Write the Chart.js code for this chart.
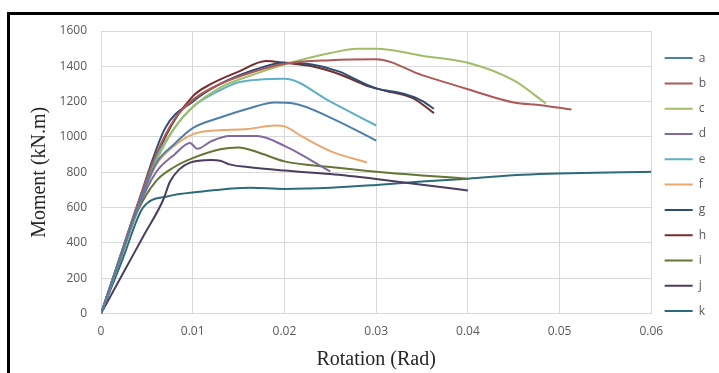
<!DOCTYPE html>
<html>
<head>
<meta charset="utf-8">
<script src="https://cdn.jsdelivr.net/npm/chart.js@4.4.0/dist/chart.umd.min.js"></script>
<style>
    html, body { margin: 0; padding: 0; background: #fff; }
    #wrap { position: relative; width: 719px; height: 373px; overflow: hidden; }
    #chart { position: absolute; left: 0; top: 0; }
    .frame-top { position: absolute; left: 7px; top: 12px; width: 712px; height: 3px; background: #000; }
    .frame-left { position: absolute; left: 7px; top: 12px; width: 3px; height: 361px; background: #000; }
</style>
</head>
<body>
<div id="wrap">
    <canvas id="chart" width="719" height="373"></canvas>
    <div class="frame-top"></div>
    <div class="frame-left"></div>
</div>
<script>
// series data: [rotation (rad), moment (kN.m)]
const seriesA = [[0,0],[0.002,300],[0.004,600],[0.006,850],[0.008,960],[0.01,1050],[0.013,1110],[0.016,1160],[0.019,1195],[0.021,1190],[0.025,1110],[0.03,980]];
const seriesB = [[0,0],[0.002,310],[0.004,620],[0.006,900],[0.008,1100],[0.01,1210],[0.013,1300],[0.017,1375],[0.02,1415],[0.025,1435],[0.03,1440],[0.035,1350],[0.04,1270],[0.045,1195],[0.048,1180],[0.0513,1155]];
const seriesC = [[0,0],[0.002,300],[0.004,600],[0.006,860],[0.008,1050],[0.01,1170],[0.013,1280],[0.017,1360],[0.02,1410],[0.025,1475],[0.028,1500],[0.03,1500],[0.035,1460],[0.04,1420],[0.045,1320],[0.0485,1190]];
const seriesD = [[0,0],[0.002,295],[0.004,590],[0.006,800],[0.008,900],[0.0097,966],[0.0105,933],[0.012,975],[0.014,1005],[0.017,1005],[0.02,950],[0.025,805]];
const seriesE = [[0,0],[0.002,305],[0.004,610],[0.006,880],[0.008,1050],[0.01,1170],[0.013,1265],[0.015,1310],[0.02,1330],[0.025,1200],[0.03,1065]];
const seriesF = [[0,0],[0.002,295],[0.004,590],[0.006,840],[0.008,950],[0.01,1015],[0.012,1035],[0.016,1045],[0.019,1065],[0.02,1060],[0.022,1000],[0.025,920],[0.029,855]];
const seriesG = [[0,0],[0.002,310],[0.004,620],[0.007,1050],[0.01,1200],[0.013,1300],[0.017,1385],[0.02,1420],[0.023,1410],[0.026,1370],[0.028,1320],[0.03,1275],[0.033,1245],[0.035,1205],[0.0363,1160]];
const seriesH = [[0,0],[0.002,300],[0.004,600],[0.007,1000],[0.01,1230],[0.012,1300],[0.015,1370],[0.018,1430],[0.02,1420],[0.023,1400],[0.026,1355],[0.029,1290],[0.031,1262],[0.034,1220],[0.0363,1135]];
const seriesI = [[0,0],[0.002,290],[0.004,580],[0.006,750],[0.008,830],[0.01,880],[0.013,930],[0.015,940],[0.017,915],[0.02,862],[0.025,830],[0.03,803],[0.035,782],[0.04,764]];
const seriesJ = [[0,0],[0.0023,218],[0.0046,437],[0.0068,646],[0.0075,745],[0.0085,815],[0.0097,855],[0.012,870],[0.013,865],[0.014,845],[0.016,830],[0.02,810],[0.025,790],[0.03,762],[0.035,730],[0.04,697]];
const seriesK = [[0,0],[0.0023,300],[0.0046,601],[0.0072,663],[0.0108,690],[0.0163,713],[0.02,706],[0.025,712],[0.03,728],[0.035,748],[0.04,764],[0.046,786],[0.06,803]];

const seriesNames = ['a', 'b', 'c', 'd', 'e', 'f', 'g', 'h', 'i', 'j', 'k'];
const seriesColors = ['#4d7fa8', '#ac5a58', '#a2bd68', '#8068a0', '#5db0c8', '#eba86c', '#2f4d72', '#742f2d', '#637634', '#4b3d60', '#2b6b7a'];
const allSeries = [seriesA, seriesB, seriesC, seriesD, seriesE, seriesF, seriesG, seriesH, seriesI, seriesJ, seriesK];

const xTicks = [0, 0.01, 0.02, 0.03, 0.04, 0.05, 0.06];
const yTicks = [0, 200, 400, 600, 800, 1000, 1200, 1400, 1600];

const datasets = allSeries.map(function(pts, i) {
    return {
        label: seriesNames[i],
        data: pts.map(function(p) { return { x: p[0], y: p[1] }; }),
        borderColor: seriesColors[i],
        backgroundColor: seriesColors[i],
        borderWidth: 2,
        pointRadius: 0,
        fill: false,
        cubicInterpolationMode: 'monotone'
    };
});

const tickFont = { family: '"Open Sans", sans-serif', size: 12 };
const titleFont = { family: '"Liberation Serif", "Times New Roman", serif', size: 20, lineHeight: 1 };

new Chart(document.getElementById('chart'), {
    type: 'line',
    data: { datasets: datasets },
    options: {
        responsive: false,
        animation: false,
        layout: { padding: { left: 30, right: 3, top: 31, bottom: 3 } },
        plugins: {
            tooltip: { enabled: false },
            legend: {
                position: 'right',
                align: 'start',
                // empty title only pushes the first item down a little
                title: { display: true, text: '', padding: 0, font: { size: 6.5 } },
                labels: {
                    usePointStyle: true,
                    pointStyle: 'line',
                    pointStyleWidth: 28,
                    padding: 13.3,
                    color: '#595959',
                    font: tickFont
                }
            }
        },
        scales: {
            x: {
                type: 'linear',
                min: 0,
                max: 0.06,
                afterBuildTicks: function(axis) {
                    axis.ticks = xTicks.map(function(v) { return { value: v }; });
                },
                ticks: { color: '#595959', font: tickFont, padding: 11, maxRotation: 0,
                    callback: function(v) { return String(v); } },
                grid: { color: '#d9d9d9', drawTicks: false },
                border: { color: '#d9d9d9' },
                title: { display: true, text: 'Rotation (Rad)', color: '#262626', font: titleFont, padding: { top: 0, bottom: 0 } }
            },
            y: {
                min: 0,
                max: 1600,
                afterBuildTicks: function(axis) {
                    axis.ticks = yTicks.map(function(v) { return { value: v }; });
                },
                afterFit: function(axis) { axis.width = 71; },
                ticks: { color: '#595959', font: tickFont, padding: 14,
                    callback: function(v) { return String(v); } },
                grid: { color: '#d9d9d9', drawTicks: false },
                border: { color: '#d9d9d9' },
                title: { display: true, text: 'Moment (kN.m)', color: '#262626', font: titleFont, padding: { top: 0, bottom: 0 } }
            }
        }
    }
});
</script>
</body>
</html>
